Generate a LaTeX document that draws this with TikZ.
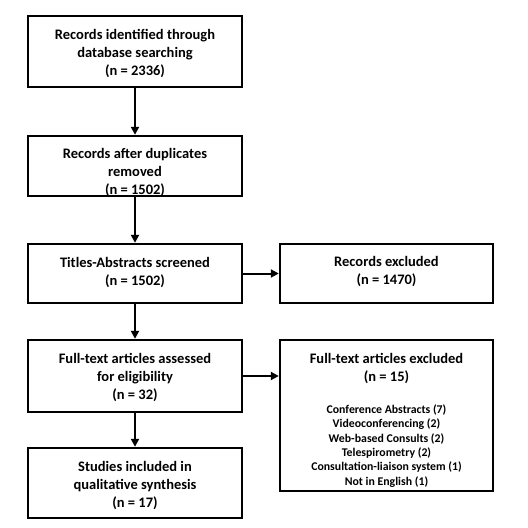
\documentclass[tikz,border=0pt]{standalone}
\usepackage{fontspec}
\setmainfont{Carlito}
\usetikzlibrary{arrows.meta,calc}
\begin{document}
\begin{tikzpicture}[x=1pt,y=-1pt,
  box/.style={draw=black,line width=2.4pt,rectangle,inner sep=0pt,minimum width=214pt},
  rbox/.style={box,minimum width=213pt},
  txt/.style={align=center,inner sep=0pt,font=\fontsize{14.5}{18}\selectfont\bfseries},
  smalltxt/.style={align=center,inner sep=0pt,font=\fontsize{11.8}{14.4}\selectfont\bfseries},
  arr/.style={line width=2pt,-{Triangle[length=8pt,width=8pt]}}]
\useasboundingbox[fill=white] (0,0) rectangle (528,528);
\node[box,minimum height=71pt] (b1) at (135,51.5) {};
\node[txt] (t1) at (135,53) {Records identified through\\database searching\\(n = 2336)};
\node[box,minimum height=60pt] (b2) at (135,166) {};
\node[txt] (t2) at (135,172.5) {Records after duplicates\\removed\\(n = 1502)};
\node[box,minimum height=59pt] (b3) at (135,273.5) {};
\node[txt] (t3) at (135,272.5) {Titles-Abstracts screened\\(n = 1502)};
\node[box,minimum height=72pt] (b4) at (135,376) {};
\node[txt] (t4) at (135,377) {Full-text articles assessed\\for eligibility\\(n = 32)};
\node[box,minimum height=70pt] (b5) at (135,483) {};
\node[txt] (t5) at (135,486) {Studies included in\\qualitative synthesis\\(n = 17)};
\node[rbox,minimum height=59pt] (r1) at (386.5,273.5) {};
\node[txt] (t6) at (386.5,272) {Records excluded\\(n = 1470)};
\node[rbox,minimum height=151pt] (r2) at (386.5,415.5) {};
\node[txt] (t7) at (386.5,368) {Full-text articles excluded\\(n = 15)};
\node[smalltxt] (t8) at (386.5,446) {Conference Abstracts (7)\\Videoconferencing (2)\\Web-based Consults (2)\\Telespirometry (2)\\Consultation-liaison system (1)\\Not in English (1)};
\draw[arr] (b1.south) -- (b2.north);
\draw[arr] (b2.south) -- (b3.north);
\draw[arr] (b3.south) -- (b4.north);
\draw[arr] (b4.south) -- (b5.north);
\draw[arr] (b3.east) -- (r1.west);
\coordinate (c4) at ($(b4.east)+(0,0)$);
\draw[arr] (c4) -- (c4 -| r2.west);
\end{tikzpicture}
\end{document}
